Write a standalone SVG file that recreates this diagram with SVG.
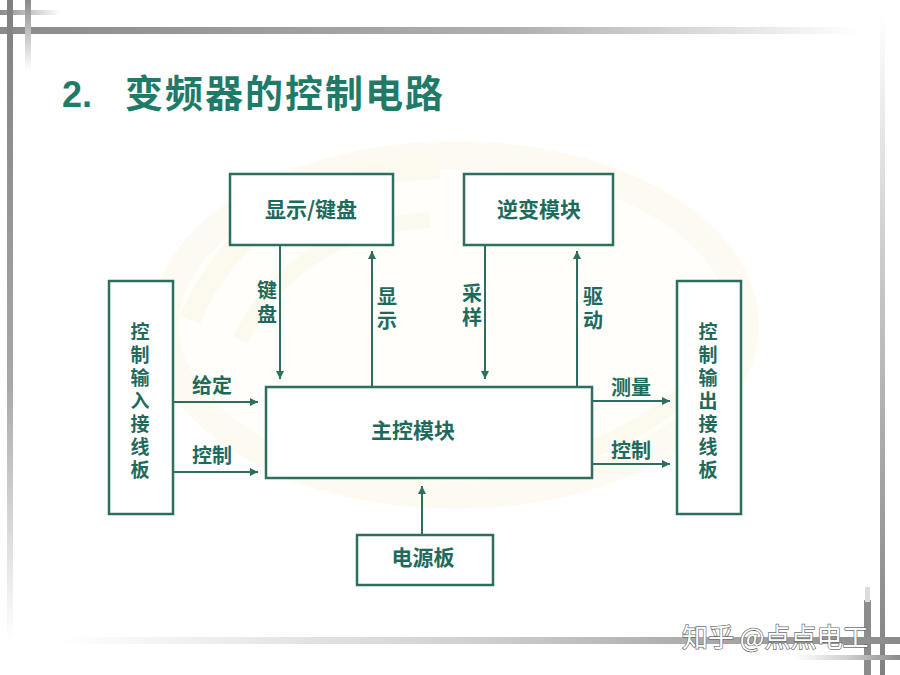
<svg xmlns="http://www.w3.org/2000/svg" width="900" height="675" viewBox="0 0 900 675">
<defs>
<linearGradient id="gTop" x1="0" y1="0" x2="1" y2="0">
<stop offset="0" stop-color="#8a8a8a"/><stop offset="0.6" stop-color="#b0b0b0"/><stop offset="1" stop-color="#ffffff"/>
</linearGradient>
<linearGradient id="gBot" x1="0" y1="0" x2="1" y2="0">
<stop offset="0" stop-color="#ffffff"/><stop offset="0.5" stop-color="#cfcfcf"/><stop offset="1" stop-color="#8a8a8a"/>
</linearGradient>
<linearGradient id="gLeft" x1="0" y1="0" x2="0" y2="1">
<stop offset="0" stop-color="#7f7f7f"/><stop offset="0.6" stop-color="#a8a8a8"/><stop offset="1" stop-color="#ffffff"/>
</linearGradient>
<linearGradient id="gRight" x1="0" y1="0" x2="0" y2="1">
<stop offset="0" stop-color="#ffffff"/><stop offset="0.4" stop-color="#c8c8c8"/><stop offset="1" stop-color="#808080"/>
</linearGradient>
<linearGradient id="gShort" x1="0" y1="0" x2="1" y2="0">
<stop offset="0" stop-color="#8a8a8a"/><stop offset="1" stop-color="#ffffff"/>
</linearGradient>
<linearGradient id="gShortV" x1="0" y1="0" x2="0" y2="1">
<stop offset="0" stop-color="#8a8a8a"/><stop offset="1" stop-color="#ffffff"/>
</linearGradient>
<marker id="arr" viewBox="0 0 10 10" refX="10" refY="5" markerWidth="8" markerHeight="8" markerUnits="userSpaceOnUse" orient="auto">
<path d="M0,0 L10,5 L0,10 z" fill="#2d6e5e"/>
</marker>
<style>
.box{fill:#ffffff;stroke:#2d6e5e;stroke-width:2.5}
.lbl{font-family:"Noto Sans CJK SC","Noto Sans",sans-serif;font-size:21px;font-weight:bold;fill:#1e6a5c;text-anchor:middle}
.vlbl{font-family:"Noto Sans CJK SC","Noto Sans",sans-serif;font-size:19px;font-weight:bold;fill:#1e6a5c;text-anchor:middle;writing-mode:vertical-rl;letter-spacing:4px}
.edge{fill:#1e6a5c;font-family:"Noto Sans CJK SC","Noto Sans",sans-serif;font-size:20px;font-weight:bold;text-anchor:middle}
.vedge{fill:#1e6a5c;font-family:"Noto Sans CJK SC","Noto Sans",sans-serif;font-size:20px;font-weight:bold;text-anchor:middle;writing-mode:vertical-rl;letter-spacing:4px}
.con{stroke:#2d6e5e;stroke-width:2;fill:none;marker-end:url(#arr)}
</style>
</defs>
<rect x="0" y="0" width="900" height="675" fill="#ffffff"/>
<!-- frame decoration -->
<rect x="0" y="10" width="60" height="5" fill="url(#gShort)"/>
<rect x="0" y="27" width="860" height="7" fill="url(#gTop)"/>
<rect x="7" y="0" width="6" height="640" fill="url(#gLeft)"/>
<rect x="25" y="0" width="6" height="70" fill="url(#gShortV)"/>
<rect x="880" y="15" width="5" height="660" fill="url(#gRight)"/>
<rect x="864" y="600" width="7" height="75" fill="#8c8c8c"/>
<rect x="865" y="587" width="5" height="15" fill="#dcdcdc"/>
<rect x="60" y="637" width="840" height="7" fill="url(#gBot)"/>
<rect x="795" y="655" width="105" height="5" fill="url(#gBot)"/>
<!-- faint background logo -->
<g opacity="0.3">
<ellipse cx="455" cy="325" rx="290" ry="170" fill="#fffdf0" stroke="#faf4d2" stroke-width="28"/>
<path d="M190,320 C230,220 330,170 440,168" stroke="#f8f1cc" stroke-width="22" fill="none"/>
<path d="M240,340 C280,260 350,225 430,220" stroke="#f8f1cc" stroke-width="16" fill="none"/>
<path d="M520,470 C620,450 700,400 730,330" stroke="#f8f1cc" stroke-width="18" fill="none"/>
</g>
<!-- title -->
<text x="62" y="107" font-family="'Liberation Sans',Arial,sans-serif" font-size="36" font-weight="bold" fill="#1f7a68">2.</text>
<text x="125" y="107" font-family="'Noto Sans CJK SC',sans-serif" font-size="38" font-weight="bold" letter-spacing="2" fill="#1f7a68">变频器的控制电路</text>
<!-- connectors -->
<g id="connectors">
<line class="con" x1="280" y1="245" x2="280" y2="379"/>
<line class="con" x1="372" y1="387" x2="372" y2="251"/>
<line class="con" x1="485" y1="245" x2="485" y2="379"/>
<line class="con" x1="577" y1="387" x2="577" y2="251"/>
<line class="con" x1="173" y1="402" x2="258" y2="402"/>
<line class="con" x1="173" y1="472" x2="258" y2="472"/>
<line class="con" x1="592" y1="401" x2="670" y2="401"/>
<line class="con" x1="592" y1="464" x2="670" y2="464"/>
<line class="con" x1="422" y1="535" x2="422" y2="486"/>
<text class="vedge" x="267" y="304">键盘</text>
<text class="vedge" x="387" y="310">显示</text>
<text class="vedge" x="472" y="307">采样</text>
<text class="vedge" x="593" y="310">驱动</text>
<text class="edge" x="212" y="393">给定</text>
<text class="edge" x="212" y="463">控制</text>
<text class="edge" x="631" y="395">测量</text>
<text class="edge" x="631" y="458">控制</text>
</g>
<!-- nodes -->
<g id="display-keyboard">
<rect class="box" x="230" y="174" width="163" height="71"/>
<text class="lbl" x="311" y="217">显示/键盘</text>
</g>
<g id="inverter">
<rect class="box" x="464" y="174" width="149" height="71"/>
<text class="lbl" x="539" y="217">逆变模块</text>
</g>
<g id="input-board">
<rect class="box" x="109" y="281" width="64" height="233"/>
<text class="vlbl" x="140" y="403">控制输入接线板</text>
</g>
<g id="output-board">
<rect class="box" x="677" y="281" width="64" height="233"/>
<text class="vlbl" x="708" y="403">控制输出接线板</text>
</g>
<g id="main-control">
<rect class="box" x="266" y="387" width="326" height="91"/>
<text class="lbl" x="413" y="438">主控模块</text>
</g>
<g id="power-board">
<rect class="box" x="357" y="535" width="136" height="50"/>
<text class="lbl" x="423" y="565">电源板</text>
</g>
<!-- watermark -->
<text x="682" y="647" font-family="'Noto Sans CJK SC',sans-serif" font-size="26" fill="#ffffff" stroke="#6f6f6f" stroke-width="1.4" paint-order="stroke">知乎 @点点电工</text>
</svg>
